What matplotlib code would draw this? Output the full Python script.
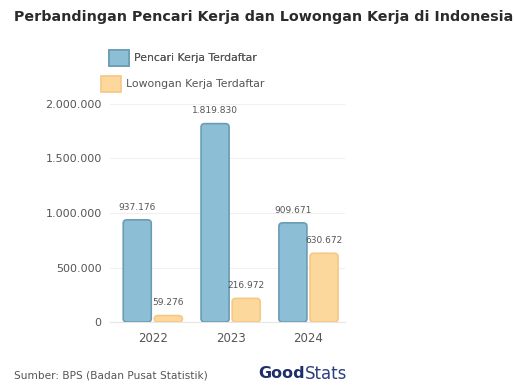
''' Pencari kerja vs lowongan kerja di Indonesia '''
import matplotlib.pyplot as plt
from matplotlib.patches import FancyBboxPatch, Patch

# Data
years = ['2022', '2023', '2024']
pencari = [937176, 1819830, 909671]
lowongan = [59276, 216972, 630672]
series_names = ['Pencari Kerja Terdaftar', 'Lowongan Kerja Terdaftar']
y_ticks = [0, 500000, 1000000, 1500000, 2000000]

blue, blue_edge = '#8cbfd5', '#6a9db4'
orange, orange_edge = '#fdd89c', '#f5c886'
txt = '#555555'


def fmt(v):
    return f'{v:,}'.replace(',', '.')


fig = plt.figure(figsize=(5.15, 3.85), dpi=100)
ax = fig.add_axes([0.2136, 0.1636, 0.4564, 0.5663])

x = range(len(years))
w = 0.36
b1 = ax.bar([i - w / 2 - 0.02 for i in x], pencari, w, color='none')
b2 = ax.bar([i + w / 2 + 0.02 for i in x], lowongan, w, color='none')

ax.set_xlim(-0.55, 2.47)
ax.set_ylim(0, 2000000)

# Rounded bars drawn on top of the bar geometry
for bars, fc, ec, vals in [(b1, blue, blue_edge, pencari), (b2, orange, orange_edge, lowongan)]:
    for rect, v in zip(bars, vals):
        bx, by = rect.get_x(), rect.get_y()
        bw, bh = rect.get_width(), rect.get_height()
        p = FancyBboxPatch((bx, by), bw, bh,
                           boxstyle='round,pad=0,rounding_size=0.05',
                           mutation_aspect=620000,
                           fc=fc, ec=ec, lw=1.2, zorder=3)
        ax.add_patch(p)
        ax.annotate(fmt(v), (bx + bw / 2, by + bh), xytext=(0, 6),
                    textcoords='offset points', ha='center', va='bottom',
                    fontsize=6.5, color=txt)

ax.set_xticks(list(x))
ax.set_xticklabels(years, fontsize=8.5, color=txt)
ax.set_yticks(y_ticks)
ax.set_yticklabels([fmt(t) for t in y_ticks], fontsize=8, color=txt)
ax.tick_params(length=0, pad=7)
ax.tick_params(axis='y', pad=6)
ax.grid(axis='y', color='#f0f0f0', lw=0.8)
ax.set_axisbelow(True)
for s in ['top', 'right', 'left']:
    ax.spines[s].set_visible(False)
ax.spines['bottom'].set_color('#e6e6e6')

# Legend, one entry per row, centered
leg_kw = dict(loc='center', frameon=False, fontsize=7.8, handlelength=1.8,
              handleheight=1.8, labelcolor=txt, handletextpad=0.5)
leg1 = fig.legend(handles=[Patch(fc=blue, ec=blue_edge, lw=1.2)], labels=[series_names[0]],
                  bbox_to_anchor=(183 / 515, 1 - 58 / 385), **leg_kw)
fig.add_artist(leg1)
fig.legend(handles=[Patch(fc=orange, ec=orange_edge, lw=1.2)], labels=[series_names[1]],
           bbox_to_anchor=(183 / 515, 1 - 84 / 385), **leg_kw)

# Title and footer
fig.text(14 / 515, 1 - 17 / 385, 'Perbandingan Pencari Kerja dan Lowongan Kerja di Indonesia',
         fontsize=10.3, fontweight='bold', color='#2b2b2b', va='center', ha='left')
fig.text(14 / 515, 1 - 376 / 385, 'Sumber: BPS (Badan Pusat Statistik)',
         fontsize=7.6, color=txt, va='center', ha='left')
fig.text(305 / 515, 1 - 374 / 385, 'Good', fontsize=11.5, fontweight='bold',
         color='#1f2f6b', va='center', ha='right')
fig.text(305 / 515, 1 - 374 / 385, 'Stats', fontsize=12, color='#2e3f80',
         va='center', ha='left')

fig.savefig('out.png', dpi=100)
